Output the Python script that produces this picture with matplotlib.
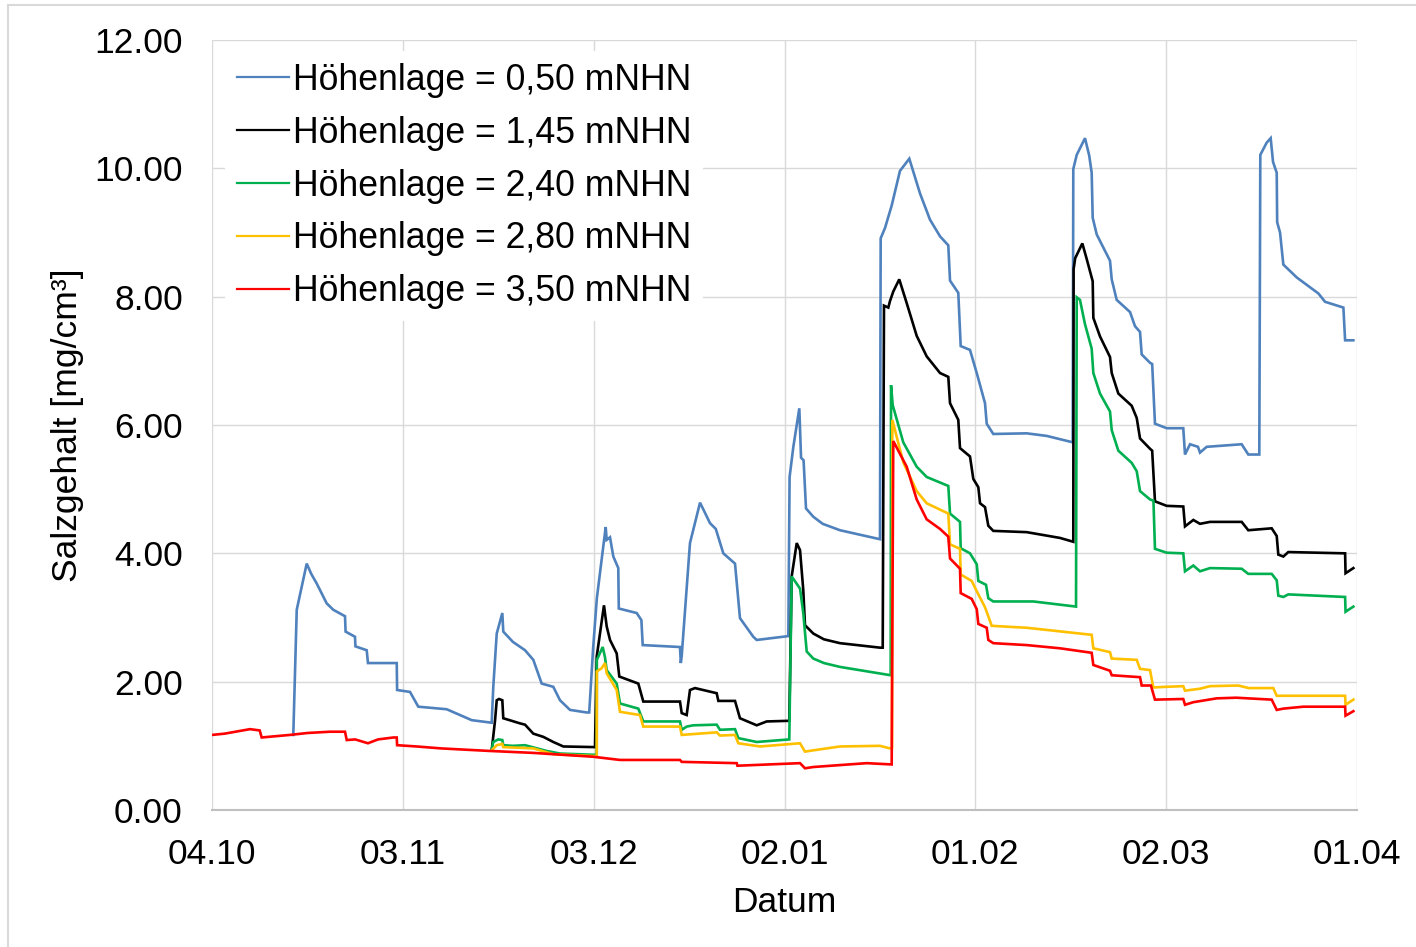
import numpy as np
import matplotlib
matplotlib.use("Agg")
import matplotlib.pyplot as plt
import matplotlib.dates as mdates
from matplotlib.lines import Line2D

# Salzgehalt-Verlauf je Höhenlage, Tage ab 04.10.2015
START = np.datetime64("2015-10-04T00:00")

tick_dates = ["2015-10-04", "2015-11-03", "2015-12-03", "2016-01-02",
              "2016-02-01", "2016-03-02", "2016-04-01"]

labels = ["Höhenlage = 0,50 mNHN", "Höhenlage = 1,45 mNHN",
          "Höhenlage = 2,40 mNHN", "Höhenlage = 2,80 mNHN",
          "Höhenlage = 3,50 mNHN"]

# 0,50 mNHN
blue_days = [12.78, 13.32, 14.89, 15.6, 16.46, 18.03, 19.07, 20.91, 21.0, 22.48, 22.55,
             24.32, 24.52, 29.04, 29.1, 31.13, 32.43, 36.90, 40.83, 43.97,
             44.22, 44.76, 45.64, 45.79, 47.3, 49.21, 50.51, 51.83, 53.65, 54.71,
             56.28, 58.90, 59.3, 59.9, 60.5, 61.89, 62.05, 62.57, 63.09, 63.87,
             63.95, 66.76, 67.5, 67.71, 73.57, 73.7, 73.84, 75.14, 76.72, 78.29,
             79.2, 80.38, 82.22, 83.00, 85.09, 85.63, 90.60, 90.8, 91.39, 92.33,
             92.6, 93.0, 93.38, 94.53, 96.0, 98.72, 105.01, 105.12, 105.80, 106.85,
             108.15, 109.62, 111.30, 112.87, 114.45, 115.75, 116.02, 117.32,
             117.70, 119.16, 120.22, 121.52, 121.79, 122.82, 128.08, 131.22,
             135.31, 135.4, 135.94, 137.24, 137.9, 138.29, 138.45, 139.08,
             141.17, 141.44, 142.22, 144.32, 145.10, 145.89, 146.15, 147.46,
             147.8, 148.24, 150.08, 152.69, 152.96, 153.75, 155.0, 155.32,
             156.37, 161.87, 162.91, 164.64, 164.8, 165.8, 166.43, 166.8,
             167.38, 167.45, 167.90, 168.42, 170.52, 173.93, 174.98, 177.86,
             178.13, 179.43]
blue_vals = [1.17, 3.12, 3.84, 3.68, 3.53, 3.22, 3.12, 3.02, 2.78, 2.70, 2.55,
             2.49, 2.29, 2.29, 1.87, 1.84, 1.61, 1.57, 1.40, 1.36,
             1.92, 2.75, 3.07, 2.78, 2.62, 2.49, 2.34, 1.97, 1.92, 1.71,
             1.56, 1.52, 1.52, 2.50, 3.30, 4.41, 4.21, 4.25, 3.95, 3.77,
             3.14, 3.07, 2.96, 2.57, 2.54, 2.29, 2.40, 4.16, 4.79, 4.47,
             4.38, 4.00, 3.84, 2.99, 2.70, 2.65, 2.71, 5.19, 5.66, 6.26,
             5.49, 5.45, 4.70, 4.57, 4.46, 4.36, 4.22, 8.91, 9.07, 9.42,
             9.96, 10.15, 9.61, 9.20, 8.94, 8.80, 8.25, 8.06,
             7.23, 7.17, 6.81, 6.34, 6.02, 5.86, 5.87, 5.83,
             5.73, 9.99, 10.21, 10.47, 10.20, 9.93, 9.23, 8.97,
             8.56, 8.27, 7.95, 7.76, 7.54, 7.45, 7.10, 6.97,
             6.95, 6.02, 5.95, 5.95, 5.54, 5.70, 5.66, 5.57,
             5.66, 5.70, 5.54, 5.54, 10.21, 10.40, 10.47, 10.10,
             9.93, 9.16, 9.00, 8.50, 8.30, 8.05, 7.92, 7.83,
             7.32, 7.32]

# 1,45 mNHN
black_days = [43.97, 44.5, 44.76, 45.12, 45.64, 45.79, 48.42, 49.21, 50.51,
              52.08, 53.65, 55.23, 60.21, 60.48, 61.62, 62.05, 62.57, 63.62,
              64.03, 67.02, 67.80, 73.57, 73.84, 74.62, 75.14, 75.93, 79.34,
              79.6, 82.22, 83.00, 85.63, 87.20, 90.75, 91.13, 91.92, 92.44,
              92.95, 93.22, 94.53, 96.2, 98.72, 105.01, 105.44, 105.64, 106.32,
              106.58, 107.10, 108.04, 109.21, 110.78, 112.35, 114.45, 115.75,
              116.02, 117.32, 117.59, 119.16, 119.68, 120.47, 120.74, 121.52,
              122.04, 122.82, 128.08, 133.31, 135.40, 135.45, 135.7, 136.82,
              137.50, 138.45, 138.55, 139.60, 141.17, 141.44, 142.48, 144.58,
              145.37, 145.89, 147.46, 147.8, 148.24, 150.08, 152.69, 152.96,
              154.27, 155.32, 156.89, 161.87, 162.91, 166.59, 167.38, 167.63,
              168.42, 169.20, 178.13, 178.2, 179.43]
black_vals = [0.93, 1.40, 1.71, 1.73, 1.71, 1.43, 1.35, 1.33, 1.19,
              1.14, 1.06, 0.99, 0.98, 2.39, 3.19, 2.86, 2.65, 2.44,
              2.08, 1.97, 1.69, 1.69, 1.51, 1.48, 1.87, 1.90, 1.82,
              1.70, 1.70, 1.43, 1.32, 1.38, 1.39, 3.64, 4.16, 4.05,
              3.43, 2.88, 2.75, 2.66, 2.60, 2.53, 2.53, 7.86, 7.83,
              7.93, 8.08, 8.27, 7.90, 7.39, 7.07, 6.81, 6.75,
              6.34, 6.08, 5.64, 5.51, 5.16, 5.03, 4.78, 4.72,
              4.43, 4.35, 4.33, 4.24, 4.18, 8.43, 8.60, 8.83,
              8.59, 8.24, 7.67, 7.38, 7.06, 6.81, 6.49, 6.30,
              6.11, 5.79, 5.63, 5.60, 4.81, 4.74, 4.73, 4.42,
              4.52, 4.46, 4.49, 4.49, 4.36, 4.39, 4.27, 3.98,
              3.95, 4.02, 4.00, 3.69, 3.77]

# 2,40 mNHN
green_days = [43.97, 44.22, 45.0, 45.64, 45.79, 47.3, 49.21, 52.62, 54.71,
              60.21, 60.48, 60.5, 61.42, 61.78, 62.05, 63.62, 64.14, 67.02,
              67.80, 73.57, 73.84, 74.62, 75.66, 79.34, 79.86, 82.22, 82.74,
              85.63, 90.75, 91.13, 92.44, 92.95, 93.49, 94.53, 96.2, 98.72, 106.69,
              106.75, 107.01, 108.67, 110.78, 112.35, 115.75, 116.02, 117.59,
              117.70, 119.16, 120.22, 120.47, 121.68, 122.04, 122.82, 129.11,
              135.83, 135.94, 136.45, 137.24, 138.29, 138.55, 139.60, 141.17,
              141.44, 142.48, 144.58, 145.37, 145.89, 147.46, 148.0, 148.24,
              150.08, 152.69, 152.96, 154.27, 155.32, 156.89, 161.87, 162.91,
              166.59, 167.38, 167.63, 168.42, 169.20, 178.13, 178.2, 179.43]
green_vals = [0.94, 1.06, 1.10, 1.09, 1.01, 1.00, 1.01, 0.92, 0.88,
              0.86, 0.86, 2.34, 2.54, 2.38, 2.18, 1.97, 1.66, 1.58,
              1.38, 1.38, 1.25, 1.30, 1.32, 1.33, 1.25, 1.26, 1.12,
              1.06, 1.10, 3.64, 3.45, 3.07, 2.47, 2.36, 2.29, 2.23, 2.10,
              6.62, 6.31, 5.73, 5.35, 5.19, 5.05, 4.62, 4.49,
              4.08, 4.00, 3.83, 3.57, 3.51, 3.30, 3.25, 3.25,
              3.17, 7.99, 7.95, 7.57, 7.19, 6.81, 6.49, 6.21,
              5.92, 5.60, 5.41, 5.28, 4.97, 4.84, 4.82, 4.07,
              4.01, 4.00, 3.72, 3.81, 3.72, 3.77, 3.76, 3.68,
              3.68, 3.58, 3.34, 3.32, 3.36, 3.32, 3.09, 3.17]

# 2,80 mNHN
yellow_days = [43.97, 44.76, 45.64, 45.79, 50.51, 53.65, 60.21, 60.48, 60.5,
               61.26, 61.78, 62.05, 63.62, 64.14, 67.28, 67.80, 73.57, 73.84,
               79.34, 79.86, 82.22, 82.74, 86.15, 92.44, 93.22, 94.53, 98.72,
               105.01, 106.58, 106.9, 106.95, 108.67, 110.78, 112.35, 115.75,
               116.02, 117.59, 117.70, 119.43, 120.22, 121.52, 122.58, 128.08,
               138.29, 138.55, 141.17, 141.44, 145.37, 145.89, 147.46, 147.98,
               150.08, 152.69, 152.96, 155.32, 156.89, 161.34, 163.0, 166.84,
               167.38, 178.13, 178.2, 179.43]
yellow_vals = [0.93, 1.01, 1.03, 0.98, 0.96, 0.87, 0.84, 0.85, 2.16,
               2.21, 2.29, 2.13, 1.87, 1.53, 1.48, 1.30, 1.30, 1.17,
               1.21, 1.16, 1.17, 1.04, 0.99, 1.04, 0.91, 0.93, 0.99,
               1.00, 0.96, 0.97, 6.08, 5.42, 4.97, 4.78, 4.62,
               4.14, 4.07, 3.67, 3.57, 3.41, 3.16, 2.87, 2.84,
               2.73, 2.52, 2.46, 2.36, 2.34, 2.20, 2.18, 1.91,
               1.92, 1.93, 1.86, 1.89, 1.93, 1.94, 1.90, 1.90,
               1.78, 1.78, 1.64, 1.72]

# 3,50 mNHN
red_days = [0.0, 2.0, 5.97, 7.5, 7.81, 10.0, 12.26, 15.0, 18.55, 20.91, 21.18,
            22.5, 24.52, 26.1, 28.5, 29.04, 29.1, 32.18, 36.0, 43.70, 50.51,
            59.90, 64.14, 73.57, 73.84, 82.49, 82.6, 92.44, 93.22, 94.53,
            102.92, 106.85, 107.10, 109.21, 110.78, 112.35, 114.45, 115.75,
            116.02, 117.59, 117.70, 119.43, 120.22, 120.47, 121.79, 122.04,
            122.82, 128.08, 133.31, 138.29, 138.55, 141.17, 141.44, 145.89,
            146.15, 147.6, 148.24, 152.69, 152.96, 154.27, 157.94, 161.0,
            166.59, 167.38, 168.42, 171.57, 178.13, 178.2, 179.43]
red_vals = [1.17, 1.19, 1.26, 1.24, 1.13, 1.15, 1.17, 1.20, 1.22, 1.22, 1.09,
            1.10, 1.04, 1.10, 1.13, 1.13, 1.01, 0.99, 0.96, 0.92, 0.89,
            0.83, 0.78, 0.78, 0.75, 0.73, 0.69, 0.73, 0.65, 0.67,
            0.73, 0.71, 5.75, 5.35, 4.84, 4.53, 4.38, 4.26,
            3.92, 3.76, 3.38, 3.29, 3.13, 2.90, 2.84, 2.65,
            2.60, 2.57, 2.52, 2.45, 2.26, 2.17, 2.10, 2.07,
            1.94, 1.94, 1.72, 1.73, 1.64, 1.68, 1.74, 1.75,
            1.72, 1.56, 1.58, 1.61, 1.61, 1.47, 1.54]

series = [(blue_days, blue_vals, "#4f81bd"),
          (black_days, black_vals, "#000000"),
          (green_days, green_vals, "#00b050"),
          (yellow_days, yellow_vals, "#ffc000"),
          (red_days, red_vals, "#ff0000")]


def to_dates(days):
    minutes = np.round(np.asarray(days) * 24 * 60).astype("timedelta64[m]")
    return START + minutes


plt.rcParams["font.family"] = ["Liberation Sans", "DejaVu Sans"]

fig = plt.figure(figsize=(14.16, 9.47), dpi=100)
ax = fig.add_axes([212 / 1416, 1 - 810 / 947, 1145 / 1416, 770 / 947])

for (days, vals, col), lab in zip(series, labels):
    ax.plot(to_dates(days), vals, color=col, lw=1.9, label=lab,
            solid_joinstyle="miter")

ax.set_xlim(np.datetime64("2015-10-04"), np.datetime64("2016-04-01"))
ax.set_ylim(0, 12)
ax.set_yticks(np.arange(0, 12.1, 2))
ax.yaxis.set_major_formatter(matplotlib.ticker.FormatStrFormatter("%.2f"))
ax.xaxis.set_major_locator(matplotlib.ticker.FixedLocator(
    mdates.date2num([np.datetime64(d) for d in tick_dates])))
ax.xaxis.set_major_formatter(mdates.DateFormatter("%d.%m"))

ax.grid(True, color="#d9d9d9", lw=1.0)
ax.set_axisbelow(True)
for s in ["top", "right", "left"]:
    ax.spines[s].set_visible(False)
ax.spines["bottom"].set_color("#bfbfbf")
ax.spines["bottom"].set_linewidth(1.5)
ax.tick_params(length=0, labelsize=25.5, colors="black")
ax.tick_params(axis="y", pad=21)
ax.tick_params(axis="x", pad=20)

ax.set_xlabel("Datum", fontsize=25.5)
ax.xaxis.set_label_coords(0.5, -0.099)
ax.set_ylabel("Salzgehalt [mg/cm³]", fontsize=25.5)
ax.yaxis.set_label_coords(-0.112, 0.5)

handles = [Line2D([], [], color=c, lw=1.6) for _, _, c in series]
leg = ax.legend(handles, labels, loc="upper left",
                bbox_to_anchor=(0.0114, 0.9855), fontsize=25.7, frameon=True,
                fancybox=False, edgecolor="none", facecolor="white",
                framealpha=1, borderaxespad=0, borderpad=0.33,
                handlelength=1.47, handletextpad=0.1, labelspacing=0.5)

# Rahmen um das Diagramm
fig.add_artist(Line2D([8 / 1416, 1], [1 - 5 / 947, 1 - 5 / 947],
                      color="#d9d9d9", lw=1.5, transform=fig.transFigure))
fig.add_artist(Line2D([8 / 1416, 8 / 1416], [0, 1 - 5 / 947],
                      color="#d9d9d9", lw=1.5, transform=fig.transFigure))

fig.savefig("out.png", dpi=100)
